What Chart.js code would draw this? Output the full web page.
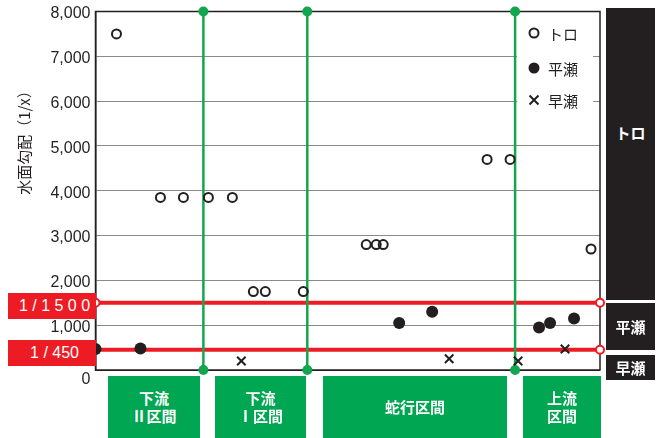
<!DOCTYPE html>
<html lang="ja">
<head>
<meta charset="utf-8">
<title>水面勾配</title>
<script src="https://cdn.jsdelivr.net/npm/chart.js@4"></script>
<style>
    body { margin: 0; background: #fff; }
    #wrap { position: relative; width: 659px; height: 438px; overflow: hidden; }
    #chart { position: absolute; left: 0; top: 0; }
    .box { position: absolute; display: flex; align-items: center; justify-content: center;
           color: #fff; font-family: "Noto Sans CJK JP", sans-serif; font-weight: bold;
           font-size: 15px; line-height: 18px; text-align: center; white-space: pre; }
    .red { background: #ed1c24; font-family: "Liberation Sans", Arial, sans-serif; font-weight: normal;
           font-size: 16px; padding-left: 5px; box-sizing: border-box; }
    .green { background: #00a651; }
    .black { background: #231f20; }
</style>
</head>
<body>
<div id="wrap">
    <canvas id="chart" width="659" height="438"></canvas>
</div>
<script>
// データ（x は区間内の位置、y は水面勾配 1/x）
const toroX = [2.1, 6.5, 8.8, 11.3, 13.7, 15.8, 17.0, 20.8, 27.1, 28.1, 28.8, 39.2, 41.5, 49.6];
const toroY = [7500, 3850, 3850, 3850, 3850, 1750, 1750, 1750, 2800, 2800, 2800, 4700, 4700, 2700];
const hiraseX = [0, 4.5, 30.4, 33.7, 44.4, 45.5, 47.9];
const hiraseY = [470, 480, 1050, 1300, 950, 1050, 1150];
const hayaseX = [14.6, 35.4, 42.3, 47.0];
const hayaseY = [200, 250, 200, 470];

// 区間の境界と基準線
const boundaries = [10.8, 21.2, 42.0];
const thresholds = [1500, 450];
const thresholdLabels = ['1 / 1 5 0 0', '1 / 450'];
const xMax = 50.5;
const yMax = 8000;

const seriesNames = ['トロ', '平瀬', '早瀬'];
const sectionNames = ['下流\nⅡ区間', '下流\nⅠ区間', '蛇行区間', '上流\n区間'];

const INK = '#231f20';
const GREEN = '#12a650';
const RED = '#ed1c24';

function pts(xs, ys) {
    return xs.map((x, i) => ({ x: x, y: ys[i] }));
}

const datasets = [
    {
        label: seriesNames[0], data: pts(toroX, toroY), order: 1, clip: false,
        pointStyle: 'circle', pointRadius: 4.5, pointBorderWidth: 2,
        pointBorderColor: INK, pointBackgroundColor: 'rgba(0,0,0,0)'
    },
    {
        label: seriesNames[1], data: pts(hiraseX, hiraseY), order: 1, clip: false,
        pointStyle: 'circle', pointRadius: 6, pointBorderWidth: 0,
        pointBackgroundColor: INK
    },
    {
        label: seriesNames[2], data: pts(hayaseX, hayaseY), order: 1, clip: false,
        pointStyle: 'crossRot', pointRadius: 6, pointBorderWidth: 2, pointBorderColor: INK
    }
];

// 基準線（赤）
thresholds.forEach(t => {
    datasets.push({
        label: 'th' + t, data: [{ x: 0, y: t }, { x: xMax, y: t }], order: 3, clip: false,
        showLine: true, borderColor: RED, borderWidth: 4,
        pointRadius: 4, pointBorderWidth: 2, pointBorderColor: RED, pointBackgroundColor: '#fff'
    });
});

// 区間境界（緑）
boundaries.forEach(b => {
    datasets.push({
        label: 'b' + b, data: [{ x: b, y: 0 }, { x: b, y: yMax }], order: 2, clip: false,
        showLine: true, borderColor: GREEN, borderWidth: 2.5,
        pointRadius: 5, pointBorderWidth: 0, pointBackgroundColor: GREEN
    });
});

const framePlugin = {
    id: 'frame',
    beforeDatasetsDraw(chart) {
        const ctx = chart.ctx;
        const a = chart.chartArea;
        ctx.save();
        // 凡例の白地
        ctx.fillStyle = '#fff';
        ctx.fillRect(517, a.top + 1.5, 76, 105);
        ctx.strokeStyle = INK;
        ctx.lineWidth = 1.5;
        ctx.strokeRect(a.left, a.top, a.right - a.left, a.bottom - a.top);
        ctx.restore();
    },
    afterDatasetsDraw(chart) {
        const ctx = chart.ctx;
        const a = chart.chartArea;
        ctx.save();
        // 凡例
        const lx = 534, tx = 548;
        const ly = [33, 68, 100];
        ctx.strokeStyle = INK;
        ctx.fillStyle = INK;
        ctx.lineWidth = 2;
        ctx.beginPath(); ctx.arc(lx, ly[0], 4.5, 0, Math.PI * 2); ctx.stroke();
        ctx.beginPath(); ctx.arc(lx, ly[1], 5.5, 0, Math.PI * 2); ctx.fill();
        ctx.beginPath();
        ctx.moveTo(lx - 4.5, ly[2] - 4.5); ctx.lineTo(lx + 4.5, ly[2] + 4.5);
        ctx.moveTo(lx + 4.5, ly[2] - 4.5); ctx.lineTo(lx - 4.5, ly[2] + 4.5);
        ctx.stroke();
        ctx.font = '15px "Noto Sans CJK JP", sans-serif';
        ctx.textBaseline = 'middle';
        ctx.textAlign = 'left';
        seriesNames.forEach((n, i) => ctx.fillText(n, tx, ly[i] + 1));

        // 0 の目盛り
        ctx.font = '16px "Liberation Sans", Arial, sans-serif';
        ctx.textAlign = 'right';
        ctx.fillText('0', a.left - 5, a.bottom + 10);

        // 縦軸タイトル
        ctx.translate(24, 139);
        ctx.rotate(-Math.PI / 2);
        ctx.textAlign = 'center';
        ctx.font = '15px "Noto Sans CJK JP", sans-serif';
        ctx.fillText('水面勾配（1/x）', 0, 0);
        ctx.restore();
    }
};

const chart = new Chart(document.getElementById('chart'), {
    type: 'scatter',
    data: { datasets: datasets },
    options: {
        responsive: false,
        animation: false,
        devicePixelRatio: 1,
        layout: { padding: { left: 0, top: 11.5, right: 59, bottom: 68 } },
        plugins: { legend: { display: false }, tooltip: { enabled: false } },
        scales: {
            x: { type: 'linear', min: 0, max: xMax, display: false },
            y: {
                min: 0, max: yMax,
                ticks: {
                    stepSize: 1000, padding: 5, color: INK, labelOffset: 2.5,
                    font: { family: '"Liberation Sans", Arial, sans-serif', size: 16 },
                    callback: v => v === 0 ? '' : v.toLocaleString('en-US')
                },
                grid: {
                    drawTicks: false, lineWidth: 1,
                    color: c => (c.tick && (c.tick.value === 0 || c.tick.value === yMax)) ? INK : '#8a8a8a'
                },
                border: { display: true, color: INK, width: 1.5 },
                afterFit: s => { s.width = 95.5; s.paddingTop = 0; s.paddingBottom = 0; }
            }
        }
    },
    plugins: [framePlugin]
});

// 注記ボックス
const wrap = document.getElementById('wrap');
function addBox(cls, text, l, t, w, h) {
    const d = document.createElement('div');
    d.className = 'box ' + cls;
    d.textContent = text;
    d.style.left = l + 'px'; d.style.top = t + 'px';
    d.style.width = w + 'px'; d.style.height = h + 'px';
    wrap.appendChild(d);
    return d;
}
addBox('red', thresholdLabels[0], 8, 293, 88, 26);
addBox('red', thresholdLabels[1], 8, 340, 88, 26);

const sectionBoxes = [[108, 92], [215, 91], [323, 184], [523, 78]];
sectionNames.forEach((n, i) => addBox('green', n, sectionBoxes[i][0], 376, sectionBoxes[i][1], 62));

const zoneBoxes = [[8, 292], [303, 47], [355, 25]];
seriesNames.forEach((n, i) => {
    const d = addBox('black', n, 606, zoneBoxes[i][0], 49, zoneBoxes[i][1]);
    if (i === 0) { d.style.alignItems = 'flex-start'; d.style.paddingTop = '116px'; d.style.boxSizing = 'border-box'; }
});
</script>
</body>
</html>
